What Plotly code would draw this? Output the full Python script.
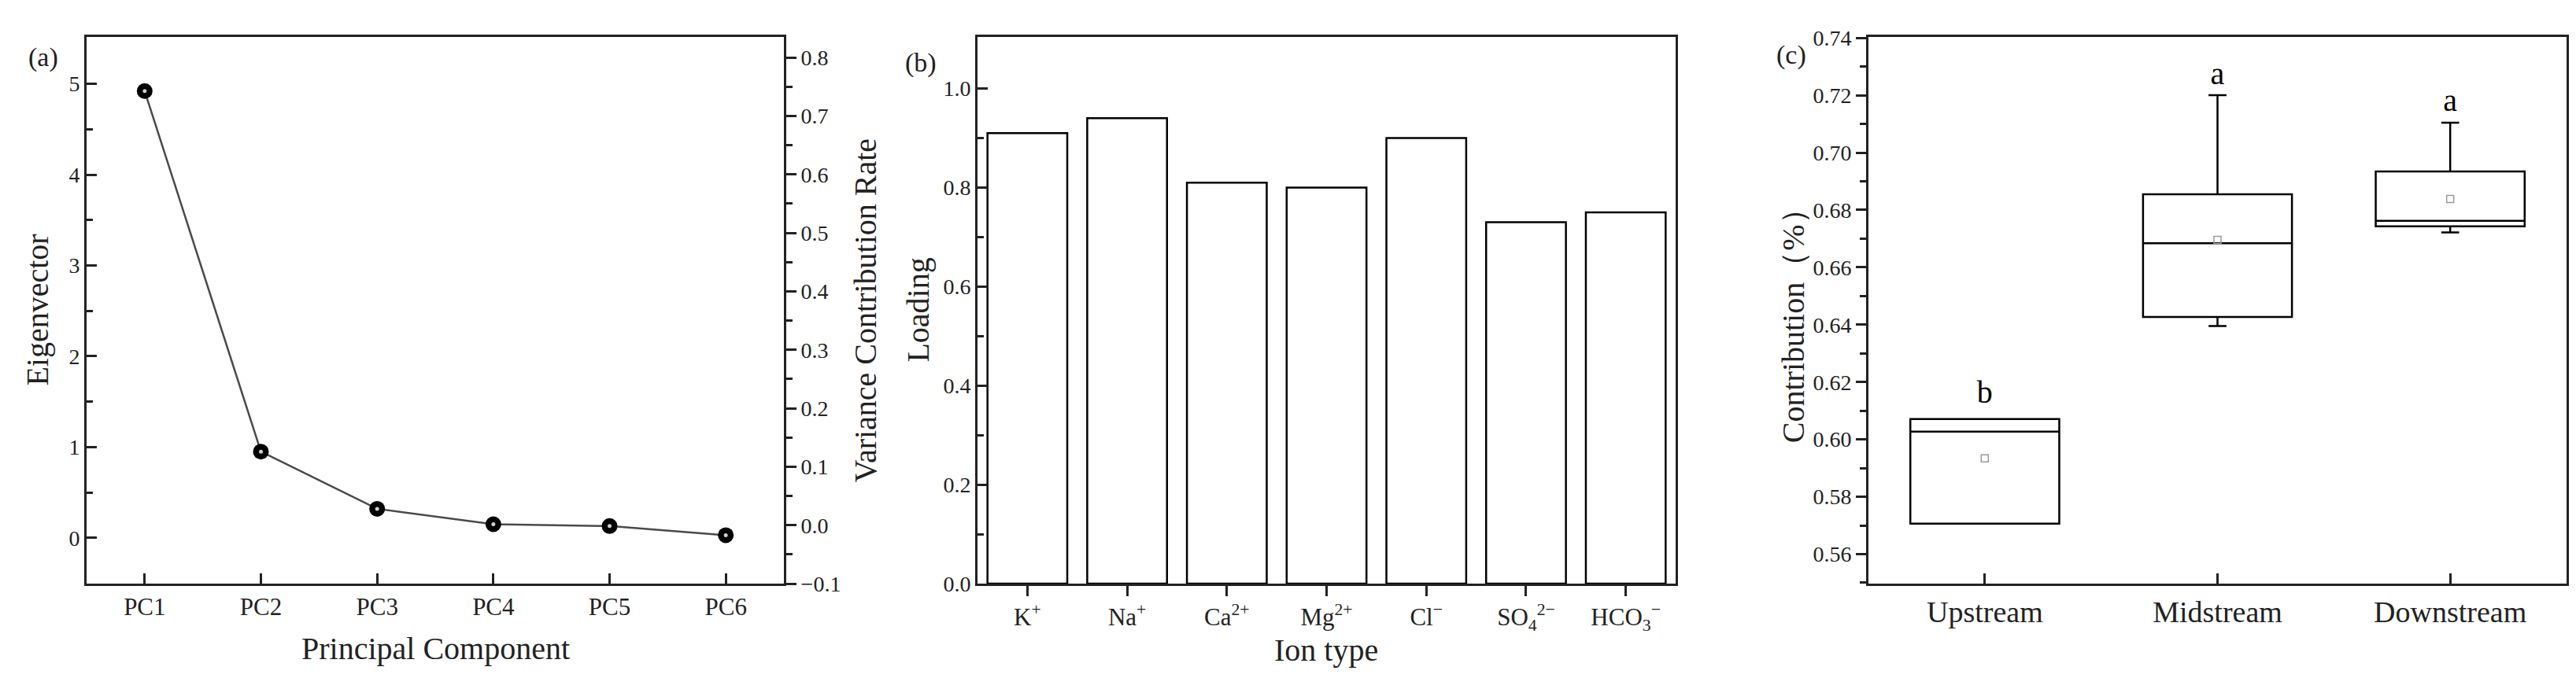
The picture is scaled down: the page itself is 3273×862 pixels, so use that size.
import plotly.graph_objects as go

# (a) scree plot
components = ["PC1", "PC2", "PC3", "PC4", "PC5", "PC6"]
eigen_values = [4.92, 0.95, 0.32, 0.15, 0.13, 0.03]

# (b) loadings
ions = ["K<sup>+</sup>", "Na<sup>+</sup>", "Ca<sup>2+</sup>", "Mg<sup>2+</sup>",
        "Cl<sup>−</sup>", "SO<sub>4</sub><sup>2−</sup>", "HCO<sub>3</sub><sup>−</sup>"]
loadings = [0.91, 0.94, 0.81, 0.80, 0.90, 0.73, 0.75]

# (c) contribution boxes
reaches = ["Upstream", "Midstream", "Downstream"]
box_low = [0.5706, 0.6395, 0.6722]
box_q1 = [0.5706, 0.6427, 0.6743]
box_med = [0.6027, 0.6684, 0.6762]
box_q3 = [0.6071, 0.6855, 0.6934]
box_high = [0.6071, 0.7200, 0.7104]
box_mean = [0.5934, 0.6696, 0.6838]
letters = ["b", "a", "a"]
letter_y = [0.6154, 0.7265, 0.7173]

W, H = 3273, 862
FONT = "Liberation Serif"
AX = "#222222"


def px(x):
    return x / W


def py(y):
    return 1 - y / H


y_dom = [py(746), py(26)]

fig = go.Figure()

# panel a
fig.add_trace(go.Scatter(
    x=components, y=eigen_values, mode="lines+markers",
    line=dict(color="#4a4a4a", width=2.5),
    marker=dict(size=20, color="#000000", line=dict(width=0)),
    xaxis="x", yaxis="y", showlegend=False))
fig.add_trace(go.Scatter(
    x=components, y=eigen_values, mode="markers",
    marker=dict(size=5, color="#cfcfcf", line=dict(width=0)),
    xaxis="x", yaxis="y", showlegend=False, hoverinfo="skip"))
# empty trace so the right-hand axis gets drawn
fig.add_trace(go.Scatter(
    x=components, y=[None] * len(components), mode="lines",
    line=dict(width=0), xaxis="x", yaxis="y2", showlegend=False,
    hoverinfo="skip"))

# panel b
fig.add_trace(go.Bar(
    x=ions, y=loadings, width=0.8,
    marker=dict(color="white", line=dict(color="#000000", width=2.5)),
    xaxis="x2", yaxis="y3", showlegend=False))

# panel c
fig.add_trace(go.Box(
    x=reaches, q1=box_q1, median=box_med, q3=box_q3,
    lowerfence=box_low, upperfence=box_high,
    width=0.64, whiskerwidth=0.12, boxpoints=False,
    fillcolor="white", line=dict(color="#000000", width=2.5),
    xaxis="x3", yaxis="y4", showlegend=False))
fig.add_trace(go.Scatter(
    x=reaches, y=box_mean, mode="markers",
    marker=dict(symbol="square-open", size=9, color="#999999", line=dict(width=1.5)),
    xaxis="x3", yaxis="y4", showlegend=False))
fig.add_trace(go.Scatter(
    x=reaches, y=letter_y, mode="text", text=letters,
    textfont=dict(family=FONT, size=40, color="#000000"),
    xaxis="x3", yaxis="y4", showlegend=False))

ytick_font = dict(family=FONT, size=28, color="#222222")
xtick_font = dict(family=FONT, size=31, color="#222222")
base = dict(showline=True, linecolor=AX, linewidth=3, showgrid=False,
            zeroline=False, tickcolor=AX, tickwidth=3, ticklen=13)
xcommon = dict(base, tickfont=xtick_font)
ycommon = dict(base, tickfont=ytick_font)

fig.update_layout(
    width=W, height=H,
    margin=dict(l=0, r=0, t=0, b=0),
    paper_bgcolor="white", plot_bgcolor="white",
    font=dict(family=FONT, color="#222222"),
    xaxis=dict(domain=[px(102), px(988)], anchor="y", range=[-0.5, 5.5],
               ticks="inside", mirror=True, **xcommon),
    yaxis=dict(domain=y_dom, anchor="x", range=[-0.504, 5.515], dtick=1,
               ticks="inside",
               minor=dict(ticks="inside", tickvals=[-0.5, 0.5, 1.5, 2.5, 3.5, 4.5],
                          ticklen=8, tickwidth=3, tickcolor=AX),
               **ycommon),
    yaxis2=dict(domain=y_dom, anchor="x", overlaying="y", side="right",
                range=[-0.1, 0.835], dtick=0.1, tickformat=".1f",
                ticks="outside", minor=dict(ticks="outside", dtick=0.05,
                                            ticklen=8, tickwidth=3, tickcolor=AX),
                **ycommon),
    xaxis2=dict(domain=[px(1234), px(2121)], anchor="y3", range=[-0.5, 6.5],
                ticks="outside", mirror=True, **xcommon),
    yaxis3=dict(domain=y_dom, anchor="x2", range=[0, 1.104], dtick=0.2,
                tickformat=".1f", ticks="inside", mirror=True,
                minor=dict(ticks="inside", tickvals=[0.1, 0.3, 0.5, 0.7, 0.9],
                           ticklen=8, tickwidth=3, tickcolor=AX),
                **ycommon),
    xaxis3=dict(domain=[px(2366), px(3253)], anchor="y4", range=[-0.5, 2.5],
                ticks="inside", mirror=True,
                **dict(base, tickfont=dict(family=FONT, size=38, color="#222222"))),
    yaxis4=dict(domain=y_dom, anchor="x3", range=[0.5497, 0.7403], dtick=0.02,
                tickformat=".2f", ticks="outside", mirror=True,
                minor=dict(ticks="outside", dtick=0.01, ticklen=8, tickwidth=3,
                           tickcolor=AX),
                **ycommon),
)

title_font = dict(family=FONT, size=40, color="#222222")
label_font = dict(family=FONT, size=34, color="#222222")
annotations = [
    dict(text="(a)", x=px(47), y=py(53), font=label_font),
    dict(text="(b)", x=px(1162), y=py(60), font=label_font),
    dict(text="(c)", x=px(2268), y=py(50), font=label_font),
    dict(text="Principal Component", x=px(545), y=py(831), font=title_font),
    dict(text="Ion type", x=px(1677), y=py(833), font=title_font),
    dict(text="Eigenvector", x=px(40), y=py(386), textangle=-90, font=title_font),
    dict(text="Variance Contribution Rate", x=px(1092), y=py(386), textangle=-90, font=title_font),
    dict(text="Loading", x=px(1159), y=py(386), textangle=-90, font=title_font),
    dict(text="Contribution（%）", x=px(2270), y=py(396), textangle=-90, font=title_font),
]
for a in annotations:
    fig.add_annotation(xref="paper", yref="paper", showarrow=False,
                       xanchor="center", yanchor="middle", **a)

fig.write_html("out.html")
